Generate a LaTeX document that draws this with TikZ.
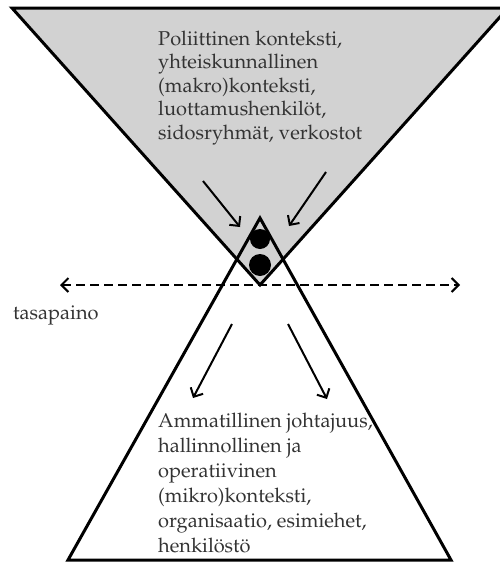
\documentclass[tikz,border=0pt]{standalone}
\usepackage[T1]{fontenc}
\usepackage{mathpazo}
\usetikzlibrary{arrows.meta}
\definecolor{topfill}{HTML}{D2D2D2}
\definecolor{txt}{HTML}{333333}
\begin{document}
\begin{tikzpicture}[x=1pt,y=-1pt,
  tri/.style={line width=3pt, line join=miter},
  flow/.style={line width=2pt, -{Straight Barb[length=7pt,width=14pt,line width=2pt]}},
  balance/.style={line width=2pt, dash pattern=on 9pt off 5pt,
     {Straight Barb[length=7pt,width=14pt,line width=2pt]}-{Straight Barb[length=7pt,width=14pt,line width=2pt]}},
  label/.style={inner sep=0pt, align=left, text=txt},
  dot/.style={circle, fill=black, inner sep=0pt}
]
\useasboundingbox (0,0) rectangle (500,562);
\clip (0,0) rectangle (500,562);
% upper (inverted) triangle
\draw[tri, fill=topfill] (12,8) -- (508,8) -- (260,285) -- cycle;
% lower triangle
\draw[tri] (260,218) -- (451,560) -- (68,560) -- cycle;
% dots
\node[dot, minimum size=20pt] (d1) at (260,239) {};
\node[dot, minimum size=22pt] (d2) at (260,265) {};
% texts
\node[label, anchor=north west, font=\fontsize{20}{23.5}\selectfont] (macro) at (158,30.5)
  {Poliittinen konteksti,\\yhteiskunnallinen\\(makro)konteksti,\\luottamushenkil\"ot,\\sidosryhm\"at, verkostot};
\node[label, anchor=north west, font=\fontsize{20}{25}\selectfont] (micro) at (158,412.5)
  {Ammatillinen johtajuus,\\hallinnollinen ja\\operatiivinen\\(mikro)konteksti,\\organisaatio, esimiehet,\\henkil\"ost\"o};
\node[label, anchor=base west, font=\fontsize{20}{24}\selectfont] (bal) at (13,319) {tasapaino};
% arrows
\coordinate (a1s) at (203,181); \coordinate (a1e) at (240,227);
\coordinate (a2s) at (326,172); \coordinate (a2e) at (289,226);
\coordinate (a3s) at (232,324); \coordinate (a3e) at (193,398);
\coordinate (a4s) at (288,324); \coordinate (a4e) at (327,399);
\coordinate (bl) at (60,285); \coordinate (br) at (460,285);
\draw[flow] (a1s) -- (a1e);
\draw[flow] (a2s) -- (a2e);
\draw[flow] (a3s) -- (a3e);
\draw[flow] (a4s) -- (a4e);
\draw[balance] (bl) -- (br);
\end{tikzpicture}
\end{document}
